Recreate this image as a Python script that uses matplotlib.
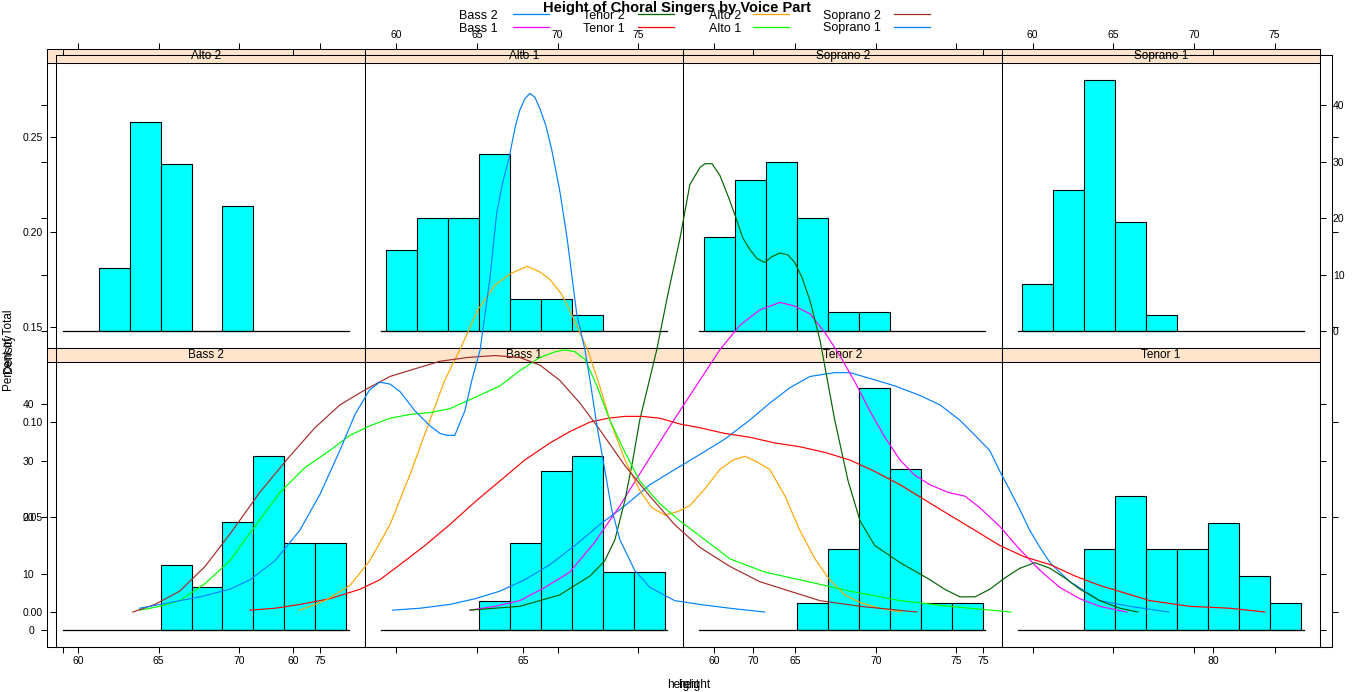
import matplotlib
matplotlib.use("Agg")
import matplotlib.pyplot as plt
from matplotlib.patches import Rectangle

plt.rcParams['font.family'] = ['Liberation Sans', 'DejaVu Sans']

# ---------------------------------------------------------------- data
voice_parts = ["Bass 2", "Bass 1", "Tenor 2", "Tenor 1",
               "Alto 2", "Alto 1", "Soprano 2", "Soprano 1"]
part_colors = ["#0080ff", "#ff00ff", "#006400", "#ff0000",
               "#ffa500", "#00ff00", "#a52a2a", "#0080ff"]

# histogram panels (percent of total), top row then bottom row
panel_names = ["Alto 2", "Alto 1", "Soprano 2", "Soprano 1",
               "Bass 2", "Bass 1", "Tenor 2", "Tenor 1"]
bin_start = 59.36
bin_width = 1.92
first_bin = [1, 0, 0, 0, 3, 3, 3, 2]
pct_alto2 = [11.1, 37.0, 29.6, 0.0, 22.2]
pct_alto1 = [14.3, 20.0, 20.0, 31.4, 5.7, 5.7, 2.9]
pct_soprano2 = [16.7, 26.7, 30.0, 20.0, 3.3, 3.3]
pct_soprano1 = [8.3, 25.0, 44.4, 19.4, 2.8]
pct_bass2 = [11.5, 7.7, 19.2, 30.8, 15.4, 15.4]
pct_bass1 = [5.1, 15.4, 28.2, 30.8, 10.3, 10.3]
pct_tenor2 = [4.8, 14.3, 42.9, 28.6, 4.8, 4.8]
pct_tenor1 = [14.3, 23.8, 14.3, 14.3, 19.0, 9.5, 4.8]
panel_pcts = [pct_alto2, pct_alto1, pct_soprano2, pct_soprano1,
              pct_bass2, pct_bass1, pct_tenor2, pct_tenor1]
hist_xticks = [60, 65, 70, 75]
hist_yticks = [0, 10, 20, 30, 40]

# density curves
dens_bass2_x = [62.17, 62.76, 63.41, 63.96, 64.50, 65.04, 65.59, 66.13, 66.67, 67.22,
                67.76, 68.30, 68.85, 69.39, 69.93, 70.37, 70.80, 71.24, 71.78, 72.11,
                72.54, 73.09, 73.63, 74.07, 74.50, 74.83, 75.15, 75.37, 75.59, 75.80,
                76.02, 76.24, 76.46, 76.67, 76.89, 77.22, 77.54, 78.20, 79.04]
dens_bass2_y = [0.001, 0.002, 0.004, 0.007, 0.011, 0.017, 0.025, 0.035, 0.046, 0.056,
                0.067, 0.075, 0.083, 0.091, 0.101, 0.110, 0.118, 0.124, 0.126, 0.126,
                0.123, 0.119, 0.114, 0.109, 0.101, 0.093, 0.085, 0.074, 0.064, 0.054,
                0.043, 0.034, 0.026, 0.021, 0.016, 0.011, 0.006, 0.003, 0.000]
dens_bass1_x = [63.85, 64.39, 64.93, 65.48, 66.02, 66.57, 67.11, 67.65, 68.20, 68.74,
                69.28, 69.72, 70.15, 70.59, 70.91, 71.24, 71.57, 71.89, 72.22, 72.54,
                72.87, 73.20, 73.52, 73.85, 74.24, 74.61, 74.93, 75.37, 75.80, 76.24,
                76.67, 77.11, 77.54, 78.13]
dens_bass1_y = [0.001, 0.003, 0.006, 0.013, 0.021, 0.037, 0.056, 0.077, 0.098, 0.118,
                0.138, 0.151, 0.159, 0.163, 0.161, 0.157, 0.147, 0.135, 0.121, 0.106,
                0.092, 0.080, 0.072, 0.067, 0.063, 0.061, 0.055, 0.045, 0.033, 0.022,
                0.013, 0.007, 0.003, 0.000]
dens_tenor2_x = [63.85, 64.93, 65.80, 66.46, 66.78, 67.00, 67.22, 67.39, 67.54, 67.72,
                 67.91, 68.15, 68.41, 68.63, 68.85, 68.96, 69.11, 69.28, 69.46, 69.61,
                 69.78, 69.93, 70.09, 70.26, 70.41, 70.59, 70.76, 70.91, 71.07, 71.24,
                 71.46, 71.78, 72.07, 72.33, 72.65, 73.20, 73.85, 74.17, 74.50, 74.83,
                 75.15, 75.48, 75.80, 76.13, 76.46, 76.78, 77.11, 77.54, 77.98, 78.37]
dens_tenor2_y = [0.001, 0.003, 0.009, 0.019, 0.027, 0.038, 0.059, 0.080, 0.101, 0.119,
                 0.138, 0.167, 0.196, 0.225, 0.234, 0.236, 0.236, 0.230, 0.219, 0.209,
                 0.197, 0.191, 0.186, 0.184, 0.187, 0.189, 0.188, 0.184, 0.176, 0.164,
                 0.143, 0.101, 0.069, 0.048, 0.035, 0.026, 0.017, 0.012, 0.008, 0.008,
                 0.012, 0.018, 0.023, 0.026, 0.023, 0.018, 0.012, 0.006, 0.002, 0.000]
dens_tenor1_x = [59.07, 59.61, 60.15, 60.80, 61.46, 61.89, 62.33, 62.87, 63.41, 63.96,
                 64.50, 65.04, 65.59, 66.02, 66.46, 66.85, 67.22, 67.59, 67.98, 68.41,
                 68.85, 69.39, 69.93, 70.48, 71.02, 71.57, 72.11, 72.65, 73.20, 73.74,
                 74.28, 74.83, 75.37, 75.91, 76.46, 77.00, 77.54, 78.09, 78.63, 79.50,
                 80.37, 81.13]
dens_tenor1_y = [0.001, 0.002, 0.004, 0.007, 0.012, 0.017, 0.025, 0.035, 0.046, 0.058,
                 0.069, 0.080, 0.089, 0.095, 0.100, 0.102, 0.103, 0.103, 0.102, 0.099,
                 0.097, 0.094, 0.092, 0.089, 0.087, 0.084, 0.080, 0.074, 0.067, 0.059,
                 0.051, 0.043, 0.035, 0.029, 0.025, 0.019, 0.014, 0.010, 0.006, 0.003,
                 0.002, 0.000]
dens_alto2_x = [60.15, 60.70, 61.24, 61.67, 62.11, 62.54, 62.98, 63.30, 63.63, 64.02,
                64.39, 64.72, 65.09, 65.37, 65.59, 65.85, 66.09, 66.41, 66.67, 66.89,
                67.22, 67.54, 67.80, 68.09, 68.37, 68.63, 68.96, 69.28, 69.57, 69.83,
                70.09, 70.37, 70.70, 71.02, 71.35, 71.67, 72.00, 72.33, 72.76, 73.22]
dens_alto2_y = [0.001, 0.006, 0.014, 0.027, 0.046, 0.072, 0.101, 0.122, 0.138, 0.159,
                0.172, 0.178, 0.182, 0.179, 0.175, 0.167, 0.155, 0.138, 0.119, 0.101,
                0.080, 0.064, 0.055, 0.051, 0.053, 0.056, 0.065, 0.075, 0.080, 0.082,
                0.079, 0.075, 0.061, 0.043, 0.028, 0.017, 0.009, 0.005, 0.002, 0.000]
dens_alto1_x = [56.67, 57.11, 57.54, 58.09, 58.63, 59.17, 59.72, 60.26, 60.80, 61.24,
                61.67, 62.11, 62.54, 62.98, 63.41, 63.96, 64.50, 64.93, 65.37, 65.70,
                65.91, 66.13, 66.35, 66.61, 66.89, 67.22, 67.54, 67.98, 68.41, 68.96,
                69.50, 70.26, 71.02, 72.11, 73.20, 74.28, 75.61]
dens_alto1_y = [0.001, 0.003, 0.006, 0.015, 0.027, 0.045, 0.063, 0.076, 0.085, 0.093,
                0.098, 0.102, 0.104, 0.105, 0.107, 0.113, 0.119, 0.127, 0.134, 0.137,
                0.138, 0.137, 0.133, 0.119, 0.101, 0.084, 0.069, 0.057, 0.048, 0.038,
                0.028, 0.021, 0.017, 0.011, 0.006, 0.003, 0.000]
dens_soprano2_x = [56.52, 57.00, 57.54, 58.09, 58.63, 59.28, 59.93, 60.48, 61.02, 61.57,
                   62.11, 62.65, 63.20, 63.80, 64.39, 64.93, 65.37, 65.80, 66.24, 66.67,
                   67.22, 67.76, 68.30, 68.85, 69.50, 70.15, 70.80, 71.46, 72.33, 73.57]
dens_soprano2_y = [0.000, 0.004, 0.011, 0.024, 0.041, 0.063, 0.082, 0.097, 0.109, 0.117,
                   0.124, 0.128, 0.132, 0.134, 0.135, 0.134, 0.130, 0.122, 0.110, 0.096,
                   0.077, 0.061, 0.046, 0.034, 0.024, 0.016, 0.011, 0.006, 0.003, 0.000]
dens_soprano1_x = [56.67, 57.33, 57.98, 58.63, 59.07, 59.61, 60.15, 60.59, 61.02, 61.35,
                   61.67, 61.89, 62.11, 62.33, 62.65, 62.98, 63.20, 63.35, 63.52, 63.74,
                   63.89, 64.07, 64.28, 64.43, 64.57, 64.70, 64.83, 64.93, 65.04, 65.15,
                   65.26, 65.37, 65.50, 65.63, 65.80, 65.96, 66.17, 66.35, 66.46, 66.61,
                   66.78, 66.93, 67.11, 67.43, 67.76, 68.30, 68.85, 69.50, 70.26]
dens_soprano1_y = [0.002, 0.005, 0.008, 0.012, 0.017, 0.027, 0.043, 0.062, 0.085, 0.104,
                   0.117, 0.121, 0.120, 0.116, 0.106, 0.098, 0.094, 0.093, 0.093, 0.106,
                   0.122, 0.138, 0.175, 0.210, 0.227, 0.239, 0.255, 0.264, 0.270, 0.273,
                   0.271, 0.265, 0.256, 0.243, 0.222, 0.197, 0.157, 0.138, 0.122, 0.098,
                   0.075, 0.054, 0.038, 0.022, 0.013, 0.006, 0.004, 0.002, 0.000]
dens_x = [dens_bass2_x, dens_bass1_x, dens_tenor2_x, dens_tenor1_x,
          dens_alto2_x, dens_alto1_x, dens_soprano2_x, dens_soprano1_x]
dens_y = [dens_bass2_y, dens_bass1_y, dens_tenor2_y, dens_tenor1_y,
          dens_alto2_y, dens_alto1_y, dens_soprano2_y, dens_soprano1_y]
dens_xticks = [55, 60, 65, 70, 75, 80]
dens_xlabels = ["", "60", "65", "70", "75", "80"]
dens_yticks = [0.00, 0.05, 0.10, 0.15, 0.20, 0.25]

# ---------------------------------------------------------------- layout
W, H = 1354, 692
fig = plt.figure(figsize=(W / 100, H / 100), dpi=100)
STRIP = "#ffe5cc"
TICK = dict(direction="out", length=4.3, width=0.75, pad=2.0, labelsize=7.5, colors="black")


def px_axes(x0, y0, x1, y1):
    return fig.add_axes([x0 / W, 1 - y1 / H, (x1 - x0) / W, (y1 - y0) / H])


# histogram trellis: 4 columns x 2 rows, frame x 47..1320, y 49..647
col_w = (1320 - 47) / 4
row_top = [49, 348]
row_h = 299
strip_h = 14
frac = (row_h - strip_h) / row_h
ylo, yhi = -3.0, 47.5
ytop = ylo + (yhi - ylo) / frac

for i, (name, pcts) in enumerate(zip(panel_names, panel_pcts)):
    r, c = divmod(i, 4)
    x0 = 47 + c * col_w
    ax = px_axes(x0, row_top[r], x0 + col_w, row_top[r] + row_h)
    ax.set_xlim(58.08, 77.81)
    ax.set_ylim(ylo, ytop)
    lefts = [bin_start + (first_bin[i] + k) * bin_width for k in range(len(pcts))]
    ax.bar(lefts, pcts, width=bin_width, align="edge", color="#00ffff",
           edgecolor="black", linewidth=0.8, zorder=2)
    ax.plot([59.07, 76.8], [0, 0], color="black", lw=0.9, zorder=3)
    ax.add_patch(Rectangle((0, frac), 1, 1 - frac, transform=ax.transAxes,
                           facecolor=STRIP, edgecolor="black", lw=0.75, zorder=4))
    ax.text(0.5, (1 + frac) / 2, name, transform=ax.transAxes, ha="center",
            va="center", fontsize=8.5, zorder=5)
    for s in ax.spines.values():
        s.set_linewidth(0.75)
    ax.tick_params(**TICK)
    ax.tick_params(axis="y", pad=5)
    ax.set_xticks(hist_xticks)
    ax.set_yticks(hist_yticks)
    if r == 0:
        ax.tick_params(axis="x", top=True, bottom=False, labeltop=(c in (1, 3)),
                       labelbottom=False)
    else:
        ax.tick_params(axis="x", top=False, bottom=True, labeltop=False,
                       labelbottom=(c in (0, 2)))
    ax.tick_params(axis="y", left=(c == 0), labelleft=(c == 0 and r == 1),
                   right=(c == 3), labelright=(c == 3 and r == 0))

# density plot laid over the trellis
dax = px_axes(56, 55, 1332, 647)
dax.set_facecolor("none")
for xs, ys, col in zip(dens_x, dens_y, part_colors):
    dax.plot(xs, ys, color=col, lw=0.85)
dax.set_xlim(54.85, 82.59)
dax.set_ylim(-0.0184, 0.2932)
dax.set_xticks(dens_xticks)
dax.set_xticklabels(dens_xlabels)
dax.set_yticks(dens_yticks)
dax.set_yticklabels([f"{v:.2f}" for v in dens_yticks])
dax.tick_params(**TICK)
dax.tick_params(axis="y", pad=5)
dax.tick_params(top=True, right=True, labeltop=False, labelright=False)
for s in dax.spines.values():
    s.set_linewidth(0.75)

# axis titles (both plots write theirs)
fig.text(9 / W, 1 - 350 / H, "Percent of Total", rotation=90, ha="center",
         va="center", fontsize=8.5)
fig.text(9 / W, 1 - 353 / H, "Density", rotation=90, ha="center", va="center",
         fontsize=8.5)
fig.text(683.5 / W, 1 - 685 / H, "height", ha="center", va="center", fontsize=8.5)
fig.text(694 / W, 1 - 685 / H, "height", ha="center", va="center", fontsize=8.5)

# title and key
oax = fig.add_axes([0, 0, 1, 1])
oax.set_xlim(0, W)
oax.set_ylim(H, 0)
oax.axis("off")
oax.text(677, 8, "Height of Choral Singers by Voice Part", ha="center", va="center",
         fontsize=10.5, fontweight="bold")
key_text_x = [459, 583, 709, 823]
key_line_x = [513, 638, 753, 894]
key_text_y = [16, 28.5]
key_line_y = [14, 27]
for i, (lab, col) in enumerate(zip(voice_parts, part_colors)):
    c, r = divmod(i, 2)
    oax.text(key_text_x[c], key_text_y[r], lab, ha="left", va="center", fontsize=9)
    oax.plot([key_line_x[c], key_line_x[c] + 36], [key_line_y[r]] * 2, color=col, lw=0.9)

fig.savefig("out.png", dpi=100)
